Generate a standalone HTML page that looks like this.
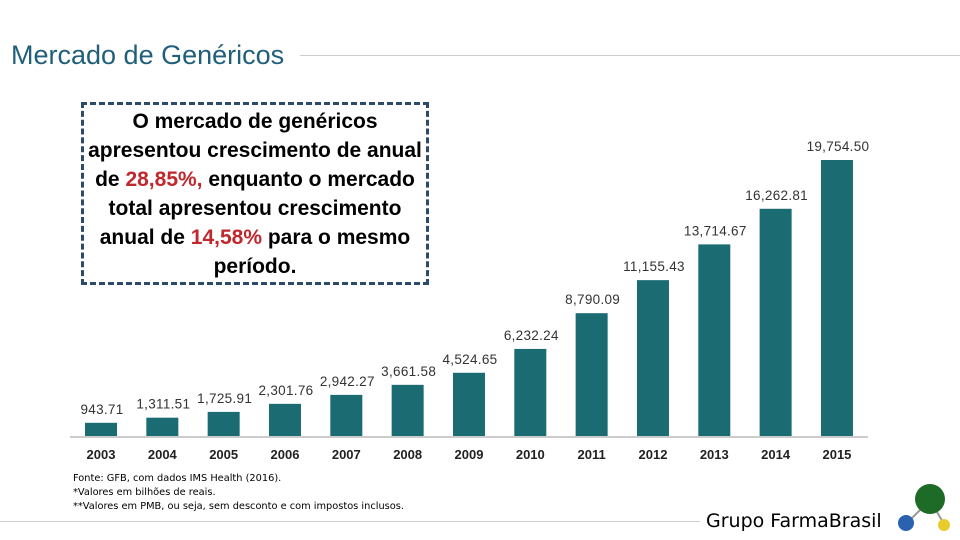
<!DOCTYPE html>
<html><head><meta charset="utf-8"><style>
body{margin:0;width:960px;height:540px;background:#fff;position:relative;overflow:hidden;font-family:"Liberation Sans",sans-serif}
.abs{position:absolute}
</style></head><body>
<div class="abs" style="left:11px;top:40px;font-size:27px;color:#1f5f7a;">Mercado de Genéricos</div>
<div class="abs" style="left:300px;top:55px;width:660px;height:1px;background:#ccc"></div>
<div class="abs" style="left:0;top:521px;width:700px;height:1px;background:#ccc"></div>
<div class="abs" style="left:81px;top:102px;width:342px;height:175px;border:3px dashed #2c4a6a;text-align:center;font-family:'Liberation Sans',sans-serif;font-weight:bold;font-size:21px;letter-spacing:0;line-height:29px;color:#000;padding-top:2px;box-sizing:content-box;white-space:nowrap;overflow:hidden">O mercado de genéricos<br>apresentou crescimento de anual<br>de <span style="color:#c0282d">28,85%,</span> enquanto o mercado<br>total apresentou crescimento<br>anual de <span style="color:#c0282d">14,58%</span> para o mesmo<br>período.</div>
<svg class="abs" style="left:0;top:0" width="960" height="540" id="chart"></svg>
<div class="abs" style="left:73px;top:472px;font-family:'DejaVu Sans',sans-serif;font-size:9.8px;line-height:14px;color:#000">Fonte: GFB, com dados IMS Health (2016).<br>*Valores em bilhões de reais.<br>**Valores em PMB, ou seja, sem desconto e com impostos inclusos.</div>
<div class="abs" style="left:706px;top:510px;font-family:'DejaVu Sans',sans-serif;font-size:19px;color:#000">Grupo FarmaBrasil</div>
<svg class="abs" style="left:890px;top:478px" width="70" height="62">
<line x1="40" y1="22" x2="16" y2="46" stroke="#999" stroke-width="2"/><line x1="40" y1="22" x2="54" y2="46" stroke="#999" stroke-width="2"/>
<circle cx="40" cy="21" r="15" fill="#1e6b28"/><circle cx="16" cy="45" r="8" fill="#2b62b0"/><circle cx="54" cy="47" r="6" fill="#e7cc2a"/>
</svg>
<script>
const years=["2003","2004","2005","2006","2007","2008","2009","2010","2011","2012","2013","2014","2015"];
const values=[943.71,1311.51,1725.91,2301.76,2942.27,3661.58,4524.65,6232.24,8790.09,11155.43,13714.67,16262.81,19754.50];
const valueLabels=["943.71","1,311.51","1,725.91","2,301.76","2,942.27","3,661.58","4,524.65","6,232.24","8,790.09","11,155.43","13,714.67","16,262.81","19,754.50"];
const svg=document.getElementById('chart');
const NS="http://www.w3.org/2000/svg";
const base=436, scaleY=276/19754.5;
const xc=i=>101+i*61.33;
const yv=v=>base-v*scaleY;
function mk(t,a){const e=document.createElementNS(NS,t);for(const k in a)e.setAttribute(k,a[k]);svg.appendChild(e);return e;}
const ax=mk('line',{x1:70,x2:868,y1:base+1,y2:base+1,stroke:'#ccc','stroke-width':2});


values.forEach((v,i)=>{
 const r=mk('rect',{x:xc(i)-16,y:yv(v),width:32,height:base-yv(v),fill:'#1a6b72'});
 
 
 const l=mk('text',{x:xc(i)+1,y:yv(v)-9,'text-anchor':'middle','font-size':13.5,fill:'#333','font-family':'Liberation Sans, sans-serif','letter-spacing':'0.3'});
 l.textContent=valueLabels[i];
 
 
 const t=mk('text',{x:xc(i),y:459,'text-anchor':'middle','font-size':13,'font-weight':'bold',fill:'#222','font-family':'Liberation Sans, sans-serif'});
 t.textContent=years[i];
 
 
});
</script>
</body></html>
